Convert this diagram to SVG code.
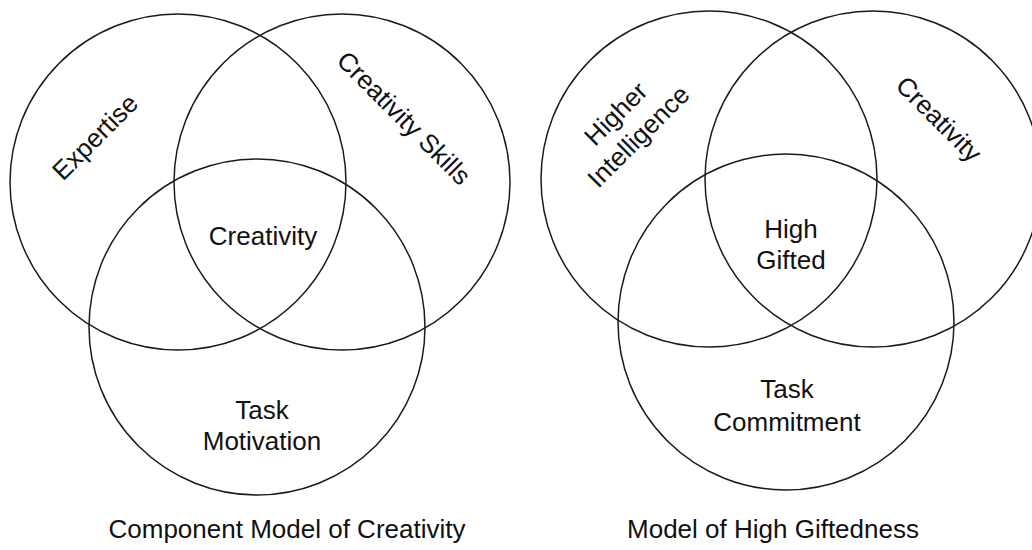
<svg xmlns="http://www.w3.org/2000/svg" width="1032" height="550" viewBox="0 0 1032 550">
<style>
.c{fill:none;stroke:#1a1a1a;stroke-width:1.5}
.t{font-family:"Liberation Sans",Arial,sans-serif;font-size:26px;fill:#111;text-anchor:middle}
</style>
<rect width="1032" height="550" fill="#fff"/>
<g id="left-venn">
  <g id="expertise"><circle class="c" cx="178" cy="182" r="168"/>
    <text class="t" transform="translate(95,137) rotate(-45)" dy="9">Expertise</text></g>
  <g id="creativity-skills"><circle class="c" cx="342" cy="182" r="168"/>
    <text class="t" transform="translate(404,118) rotate(45)" dy="9">Creativity Skills</text></g>
  <g id="task-motivation"><circle class="c" cx="257" cy="327" r="168"/>
    <text class="t" x="262" y="419">Task</text>
    <text class="t" x="262" y="450">Motivation</text></g>
  <g id="creativity-center"><text class="t" x="263" y="245">Creativity</text></g>
  <text class="t" x="287" y="538">Component Model of Creativity</text>
</g>
<g id="right-venn">
  <g id="higher-intelligence"><circle class="c" cx="709" cy="179" r="168"/>
    <text class="t" transform="translate(627,125) rotate(-45)"><tspan x="0" y="-7">Higher</tspan><tspan x="0" y="25">Intelligence</tspan></text></g>
  <g id="creativity"><circle class="c" cx="873" cy="179" r="168"/>
    <text class="t" transform="translate(939,119) rotate(45)" dy="9">Creativity</text></g>
  <g id="task-commitment"><circle class="c" cx="786" cy="322" r="168"/>
    <text class="t" x="787" y="398">Task</text>
    <text class="t" x="787" y="431">Commitment</text></g>
  <g id="high-gifted"><text class="t" x="791" y="238">High</text>
    <text class="t" x="791" y="269">Gifted</text></g>
  <text class="t" x="773" y="538">Model of High Giftedness</text>
</g>
<g id="connectors"></g>
</svg>
